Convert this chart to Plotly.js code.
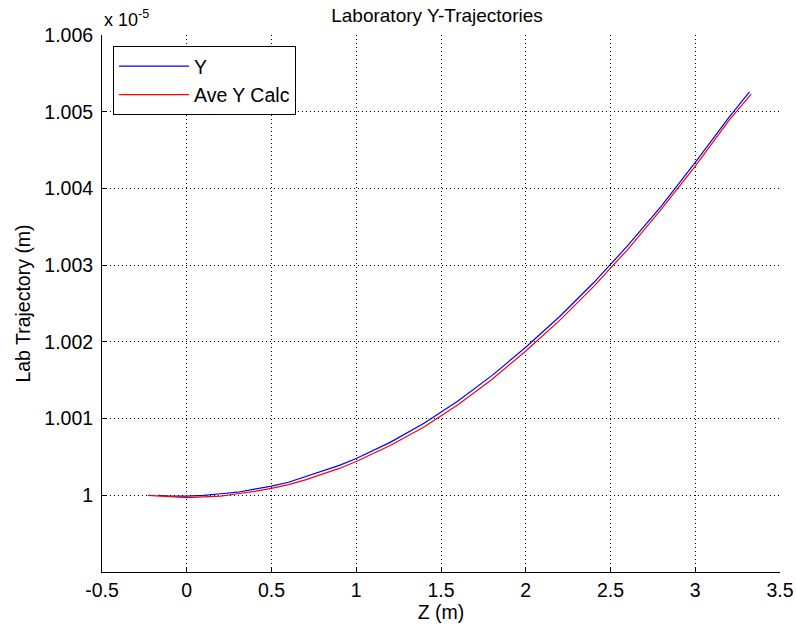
<!DOCTYPE html>
<html>
<head>
<meta charset="utf-8">
<script src="https://cdn.plot.ly/plotly-3.0.1.min.js"></script>
<style>html,body{margin:0;padding:0;background:#fff;}#chart{width:796px;height:637px;}</style>
</head>
<body>
<div id="chart"></div>
<script>
// Values in units of 1e-5 m (shown with the "x 10^-5" axis multiplier)
const zY = [-0.17, -0.1, 0, 0.1, 0.2, 0.3, 0.4, 0.5, 0.6, 0.7, 0.8, 0.9, 1.0, 1.2, 1.4, 1.5, 1.6, 1.8, 2.0, 2.2, 2.4, 2.5, 2.6, 2.8, 3.0, 3.2, 3.32];
const yY = [1.00000, 0.99999, 0.99999, 1.00000, 1.00002, 1.00004, 1.00008, 1.00012, 1.00017, 1.00024, 1.00031, 1.00039, 1.00048, 1.00069, 1.00094, 1.00108, 1.00123, 1.00156, 1.00193, 1.00233, 1.00277, 1.00301, 1.00325, 1.00377, 1.00434, 1.00493, 1.00526];
const zCalc = [-0.23, -0.1, 0, 0.1, 0.2, 0.3, 0.4, 0.5, 0.6, 0.7, 0.8, 0.9, 1.0, 1.2, 1.4, 1.5, 1.6, 1.8, 2.0, 2.2, 2.4, 2.5, 2.6, 2.8, 3.0, 3.2, 3.33];
const yCalc = [1.00000, 0.99998, 0.99997, 0.99998, 0.99999, 1.00002, 1.00005, 1.00009, 1.00014, 1.00020, 1.00027, 1.00035, 1.00044, 1.00065, 1.00089, 1.00103, 1.00118, 1.00151, 1.00188, 1.00228, 1.00272, 1.00296, 1.00320, 1.00373, 1.00429, 1.00489, 1.00523];
const xTicks = [-0.5, 0, 0.5, 1, 1.5, 2, 2.5, 3, 3.5];
const xTickText = ['-0.5', '0', '0.5', '1', '1.5', '2', '2.5', '3', '3.5'];
const yTicks = [1, 1.001, 1.002, 1.003, 1.004, 1.005, 1.006];
const yTickText = ['1', '1.001', '1.002', '1.003', '1.004', '1.005', '1.006'];

const FONT = 'Arial, "Liberation Sans", Helvetica, sans-serif';
const FS = 19.5;

const traces = [
  {x: zY, y: yY, name: 'Y', type: 'scatter', mode: 'lines', line: {color: '#0000ff', width: 1.2}, legendgroup: 'a'},
  {x: zCalc, y: yCalc, name: 'Ave Y Calc', type: 'scatter', mode: 'lines', line: {color: '#ff0000', width: 1.2}, legendgroup: 'b'}
];

const axisCommon = {
  showline: true, linecolor: '#000', linewidth: 1, mirror: false,
  ticks: 'inside', ticklen: 5, tickcolor: '#000', tickwidth: 1,
  showgrid: true, gridcolor: '#000', gridwidth: 1, griddash: '1px,3px',
  zeroline: false, tickfont: {family: FONT, size: FS, color: '#000'},
  tickmode: 'array'
};

const layout = {
  width: 796, height: 637,
  margin: {l: 102, r: 16, t: 35, b: 65, pad: 0},
  paper_bgcolor: '#fff', plot_bgcolor: '#fff',
  font: {family: FONT, size: FS, color: '#000'},
  title: {text: 'Laboratory Y-Trajectories', x: 0.549, xanchor: 'center', y: 0.976, yanchor: 'middle', font: {family: FONT, size: 19, color: '#000'}},
  xaxis: Object.assign({}, axisCommon, {
    range: [-0.5, 3.5], tickvals: xTicks, ticktext: xTickText,
    title: {text: 'Z (m)', standoff: 2, font: {family: FONT, size: FS, color: '#000'}},
    ticklabelstandoff: 1
  }),
  yaxis: Object.assign({}, axisCommon, {
    range: [0.999, 1.006], tickvals: yTicks, ticktext: yTickText,
    title: {text: 'Lab Trajectory (m)', standoff: 8, font: {family: FONT, size: FS, color: '#000'}},
    ticklabelstandoff: 4
  }),
  showlegend: true,
  legend: {
    x: 0.0162, y: 0.9795, xanchor: 'left', yanchor: 'top',
    bgcolor: '#fff', bordercolor: '#000', borderwidth: 1,
    font: {family: FONT, size: FS, color: '#000'},
    itemwidth: 70, traceorder: 'grouped', tracegroupgap: 0
  },
  annotations: [{
    text: 'x 10<sup>-5</sup>', xref: 'paper', yref: 'paper', x: 0, y: 1, xanchor: 'left', yanchor: 'bottom',
    yshift: 3, showarrow: false, font: {family: FONT, size: 18, color: '#000'}
  }]
};

Plotly.newPlot('chart', traces, layout, {displayModeBar: false, staticPlot: true});
</script>
</body>
</html>
